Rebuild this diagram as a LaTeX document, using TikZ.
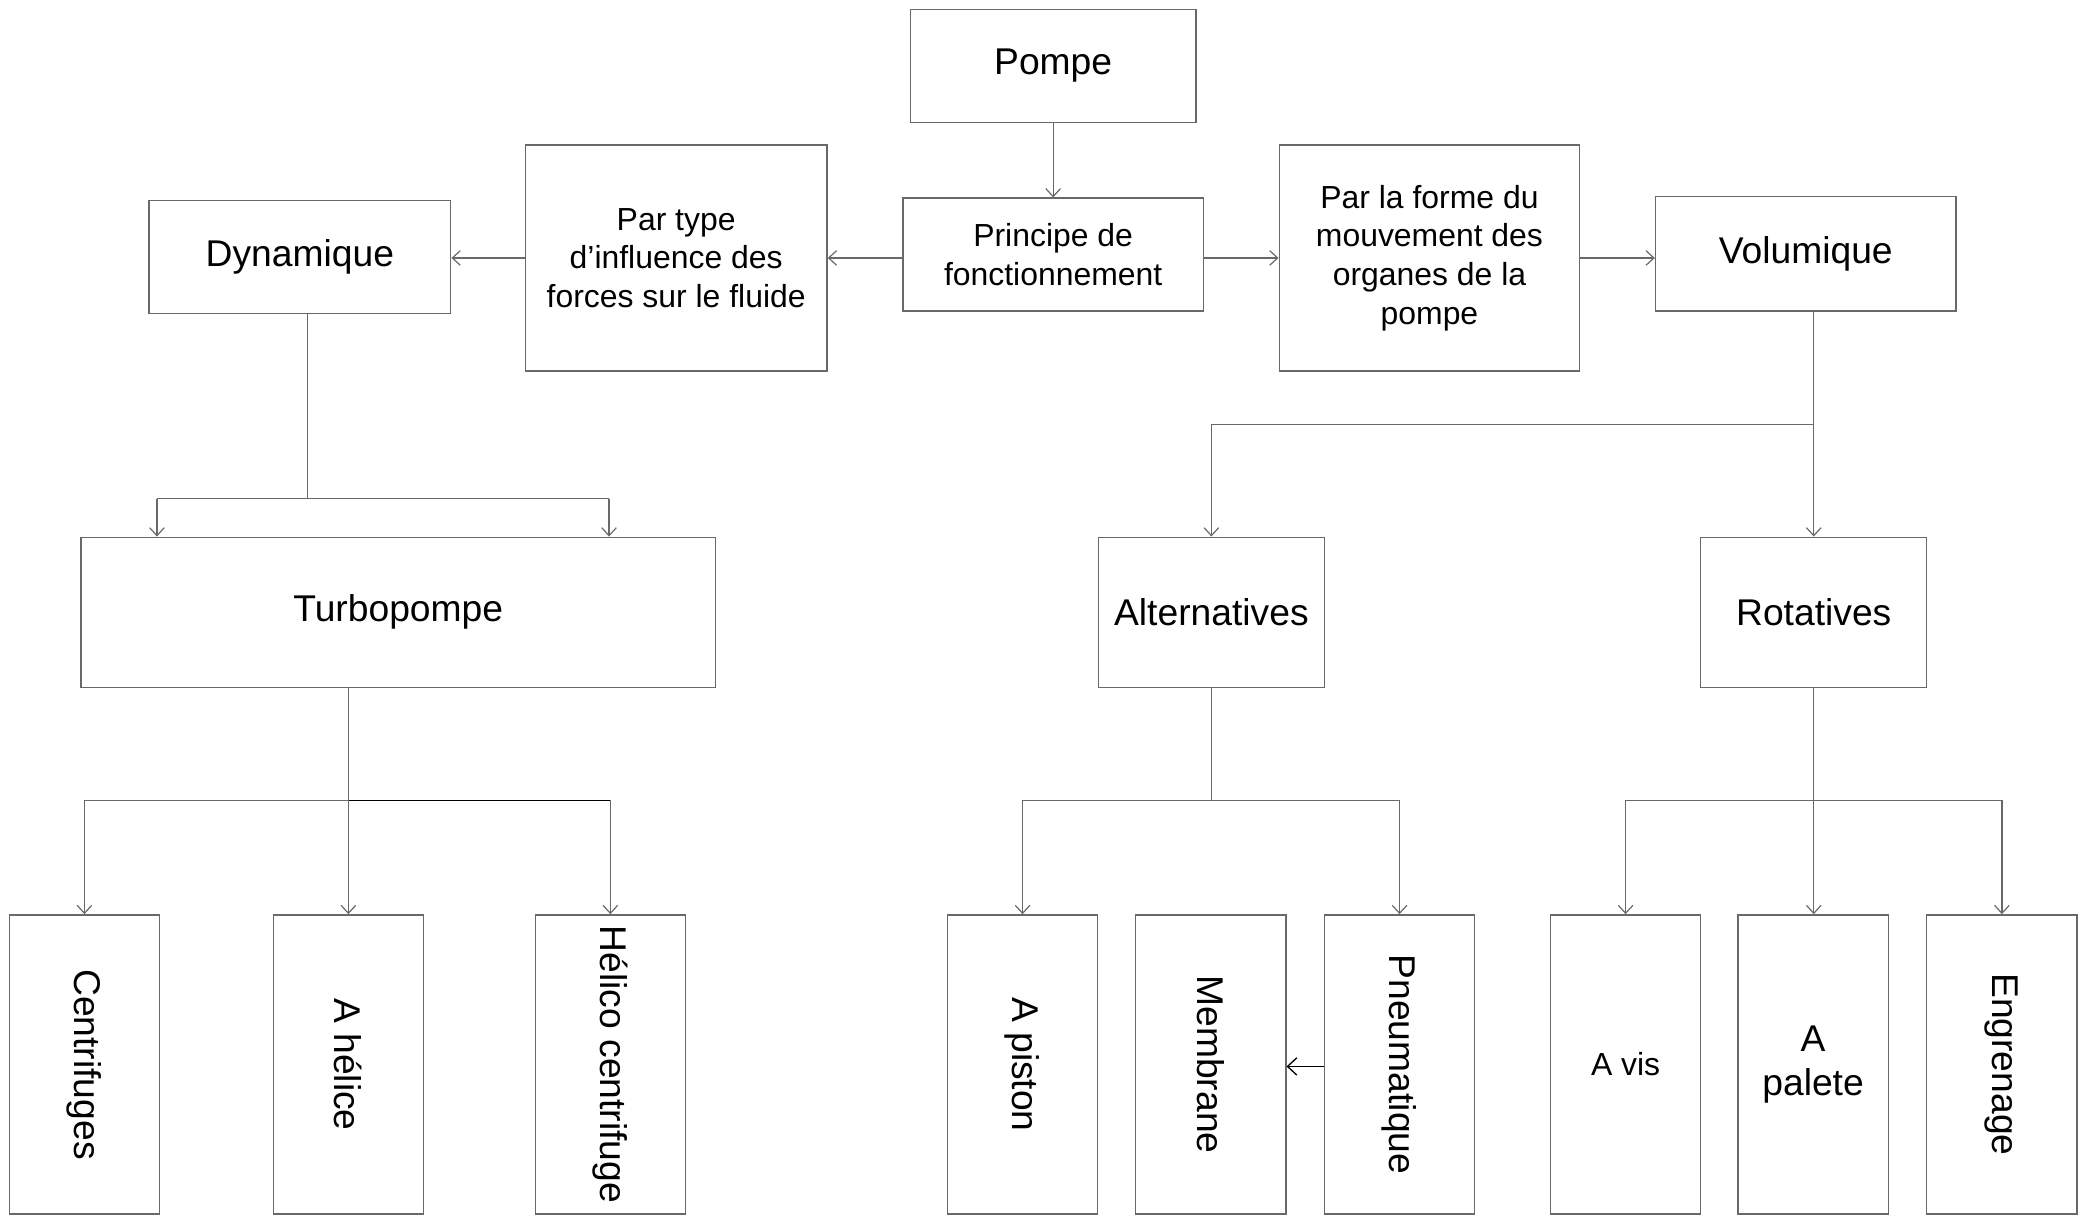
\documentclass[tikz,border=0pt]{standalone}
\usepackage{fontspec}
\setmainfont{Liberation Sans}
\usetikzlibrary{arrows.meta}
\definecolor{linegray}{RGB}{105,105,105}
\tikzset{
  box/.style={draw=linegray, line width=1pt, inner sep=0pt, align=center, text=black},
  big/.style={font=\fontsize{28}{32}\selectfont},
  small/.style={font=\fontsize{24}{29}\selectfont},
  conn/.style={draw=linegray, line width=0.9pt},
  arr/.style={conn, -{Straight Barb[length=6pt,width=11pt]}},
  leaf/.style={box, big, minimum width=113pt, minimum height=225pt},
  vtext/.style={rotate=-90},
}
\begin{document}
\begin{tikzpicture}[x=1pt,y=-1pt]
\useasboundingbox (0,0) rectangle (1568,915);
% top level
\node[box,big,minimum width=215pt,minimum height=85pt] (pompe) at (792,49.5) {Pompe};
\node[box,small,minimum width=226pt,minimum height=85pt] (principe) at (792,191.5) {Principe de\\fonctionnement};
\node[box,small,minimum width=227pt,minimum height=170pt] (partype) at (508.5,194) {Par type\\d’influence des\\forces sur le fluide};
\node[box,big,minimum width=227pt,minimum height=85pt] (dyn) at (225.5,193.5) {Dynamique};
\node[box,small,minimum width=226pt,minimum height=170pt] (parforme) at (1075,194) {Par la forme du\\mouvement des\\organes de la\\pompe};
\node[box,big,minimum width=226pt,minimum height=86pt] (vol) at (1358,191) {Volumique};
% second level
\node[box,big,minimum width=477pt,minimum height=113pt] (turbo) at (299.5,460.5) {Turbopompe};
\node[box,big,minimum width=170pt,minimum height=113pt] (alt) at (911,460.5) {Alternatives};
\node[box,big,minimum width=170pt,minimum height=113pt] (rot) at (1364,460.5) {Rotatives};
% leaves
\node[leaf] (cent) at (63.5,800.5) {};
\node[big,vtext] at (cent.center) {Centrifuges};
\node[leaf] (helice) at (262,800.5) {};
\node[big,vtext] at (helice.center) {A hélice};
\node[leaf] (helico) at (459,800.5) {};
\node[big,vtext] at (helico.center) {Hélico centrifuge};
\node[leaf] (piston) at (769,800.5) {};
\node[big,vtext] at (piston.center) {A piston};
\node[leaf] (memb) at (910.5,800.5) {};
\node[big,vtext] at (memb.center) {Membrane};
\node[leaf] (pneu) at (1052.5,800.5) {};
\node[big,vtext] at (pneu.center) {Pneumatique};
\node[leaf,small] (avis) at (1222.5,800.5) {A vis};
\node[leaf,align=center,font=\fontsize{28}{33}\selectfont] (palete) at (1363.5,800.5) {A\\palete};
\node[leaf] (engr) at (1505.5,800.5) {};
\node[big,vtext] at (engr.center) {Engrenage};
% top connectors
\coordinate (ylev) at (0,194);
\draw[arr] (pompe.south) -- (principe.north);
\draw[arr] (principe.west |- ylev) -- (partype.east |- ylev);
\draw[arr] (partype.west |- ylev) -- (dyn.east |- ylev);
\draw[arr] (principe.east |- ylev) -- (parforme.west |- ylev);
\draw[arr] (parforme.east |- ylev) -- (vol.west |- ylev);
% Dynamique -> Turbopompe
\coordinate (j1) at (231,375);
\coordinate (j1l) at (118,375);
\coordinate (j1r) at (458,375);
\draw[conn] (dyn.south -| j1) -- (j1);
\draw[conn] (j1l) -- (j1r);
\draw[arr] (j1l) -- (turbo.north -| j1l);
\draw[arr] (j1r) -- (turbo.north -| j1r);
% Turbopompe -> leaves
\coordinate (j2) at (262,602);
\draw[conn] (turbo.south -| j2) -- (j2);
\draw[conn] (cent.north |- j2) -- (j2);
\draw[draw=black, line width=1.2pt] (j2) -- (helico.north |- j2);
\draw[arr] (cent.north |- j2) -- (cent.north);
\draw[arr] (j2) -- (helice.north);
\draw[arr] (helico.north |- j2) -- (helico.north);
% Volumique -> Alternatives / Rotatives
\coordinate (j3) at (1364,319);
\draw[conn] (vol.south -| j3) -- (j3);
\draw[conn] (alt.north |- j3) -- (j3);
\draw[arr] (alt.north |- j3) -- (alt.north);
\draw[arr] (j3) -- (rot.north);
% Alternatives -> leaves
\coordinate (j4) at (911,602);
\draw[conn] (alt.south) -- (j4);
\draw[conn] (piston.north |- j4) -- (pneu.north |- j4);
\draw[arr] (piston.north |- j4) -- (piston.north);
\draw[arr] (pneu.north |- j4) -- (pneu.north);
% Rotatives -> leaves
\coordinate (j5) at (1364,602);
\draw[arr] (rot.south) -- (rot.south |- palete.north);
\draw[conn] (avis.north |- j5) -- (engr.north |- j5);
\draw[arr] (avis.north |- j5) -- (avis.north);
\draw[arr] (engr.north |- j5) -- (engr.north);
% Pneumatique -> Membrane
\coordinate (ymb) at (0,802);
\draw[draw=black, line width=1pt, -{Straight Barb[length=7pt,width=13pt]}] (pneu.west |- ymb) -- (memb.east |- ymb);
\end{tikzpicture}
\end{document}
